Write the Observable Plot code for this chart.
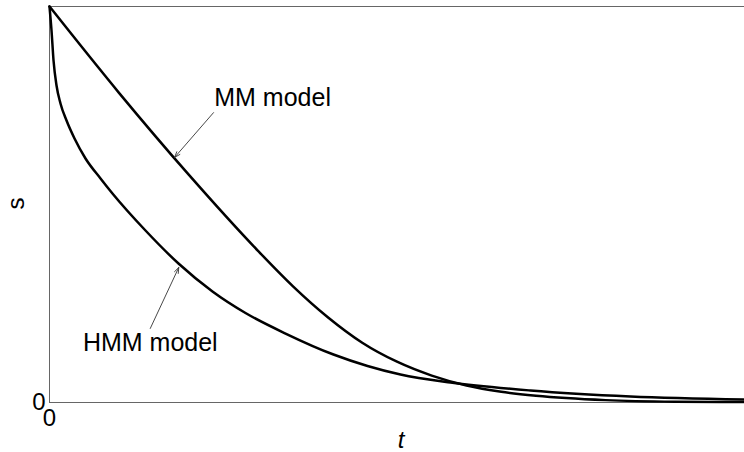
<!DOCTYPE html>
<html>
<head>
<meta charset="utf-8">
<script src="https://cdn.jsdelivr.net/npm/d3@7"></script>
<script src="https://cdn.jsdelivr.net/npm/@observablehq/plot@0.6"></script>
<style>
  body { margin: 0; background: #fff; }
</style>
</head>
<body>
<div id="chart"></div>
<script>
// MM model curve (t, s)
const mmT = [0, 0.1, 0.2, 0.3, 0.35, 0.4, 0.45, 0.5, 0.55, 0.6, 0.65, 0.7, 0.8, 0.9, 1];
const mmS = [1, 0.782, 0.576, 0.383, 0.294, 0.216, 0.151, 0.103, 0.068, 0.043, 0.027, 0.017, 0.006, 0.002, 0.001];

// HMM model curve (t, s)
const hmmT = [0, 0.0029, 0.0058, 0.0101, 0.0158, 0.0245, 0.036, 0.0518, 0.0734, 0.0906, 0.1381, 0.1856, 0.2345, 0.282, 0.3396, 0.4086, 0.4576, 0.505, 0.577, 0.6921, 0.836, 1];
const hmmS = [1, 0.9394, 0.8636, 0.8005, 0.7551, 0.7121, 0.6667, 0.6162, 0.5657, 0.5278, 0.4343, 0.351, 0.2803, 0.226, 0.1742, 0.1212, 0.0922, 0.0707, 0.0505, 0.0303, 0.0152, 0.0076];

// Tick labels and axis titles
const xTicks = [0];
const yTicks = [0];
const xTitle = "t";
const yTitle = "s";

// Annotations
const annoLabels = ["MM model", "HMM model"];
const annoT = [0.321, 0.145];
const annoS = [0.770, 0.149];
const arrowFromT = [0.236, 0.145];
const arrowFromS = [0.732, 0.187];
const arrowToT = [0.180, 0.186];
const arrowToS = [0.619, 0.341];

const mm = mmT.map((t, i) => ({t, s: mmS[i]}));
const hmm = hmmT.map((t, i) => ({t, s: hmmS[i]}));
const annos = annoLabels.map((label, i) => ({
  label, t: annoT[i], s: annoS[i],
  t1: arrowFromT[i], s1: arrowFromS[i], t2: arrowToT[i], s2: arrowToS[i]
}));

const font = "'Liberation Sans', Arial, Helvetica, sans-serif";

const chart = Plot.plot({
  width: 744,
  height: 452,
  marginLeft: 49,
  marginRight: 0,
  marginTop: 6,
  marginBottom: 50,
  x: {domain: [0, 1]},
  y: {domain: [0, 1]},
  style: {fontFamily: font, fontSize: "24px", background: "#fff", color: "#000"},
  marks: [
    Plot.ruleY([0, 1], {stroke: "#666", strokeWidth: 1}),
    Plot.ruleX([0], {stroke: "#666", strokeWidth: 1}),
    Plot.line(mm, {x: "t", y: "s", curve: "monotone-x", stroke: "#000", strokeWidth: 2.5}),
    Plot.line(hmm, {x: "t", y: "s", curve: "monotone-x", stroke: "#000", strokeWidth: 2.5}),
    Plot.arrow(annos, {x1: "t1", y1: "s1", x2: "t2", y2: "s2", stroke: "#333", strokeWidth: 0.9, headLength: 10, headAngle: 40}),
    Plot.text(annos, {x: "t", y: "s", text: "label", fontSize: 25, fill: "#000", fontFamily: font}),
    Plot.axisY(yTicks, {tickSize: 0, tickPadding: 4, fontSize: 24, tickFormat: d => String(d), label: null}),
    Plot.axisX(xTicks, {tickSize: 0, tickPadding: 6, fontSize: 24, tickFormat: d => String(d), label: null}),
    Plot.text([yTitle], {text: d => d, frameAnchor: "left", rotate: -90, dx: -33, dy: 5, fontSize: 24, fill: "#000", fontFamily: font}),
    Plot.text([xTitle], {text: d => d, frameAnchor: "bottom", dx: 4, dy: 45, fontSize: 24, fontStyle: "italic", fill: "#000", fontFamily: font})
  ]
});
document.getElementById("chart").appendChild(chart);
</script>
</body>
</html>
